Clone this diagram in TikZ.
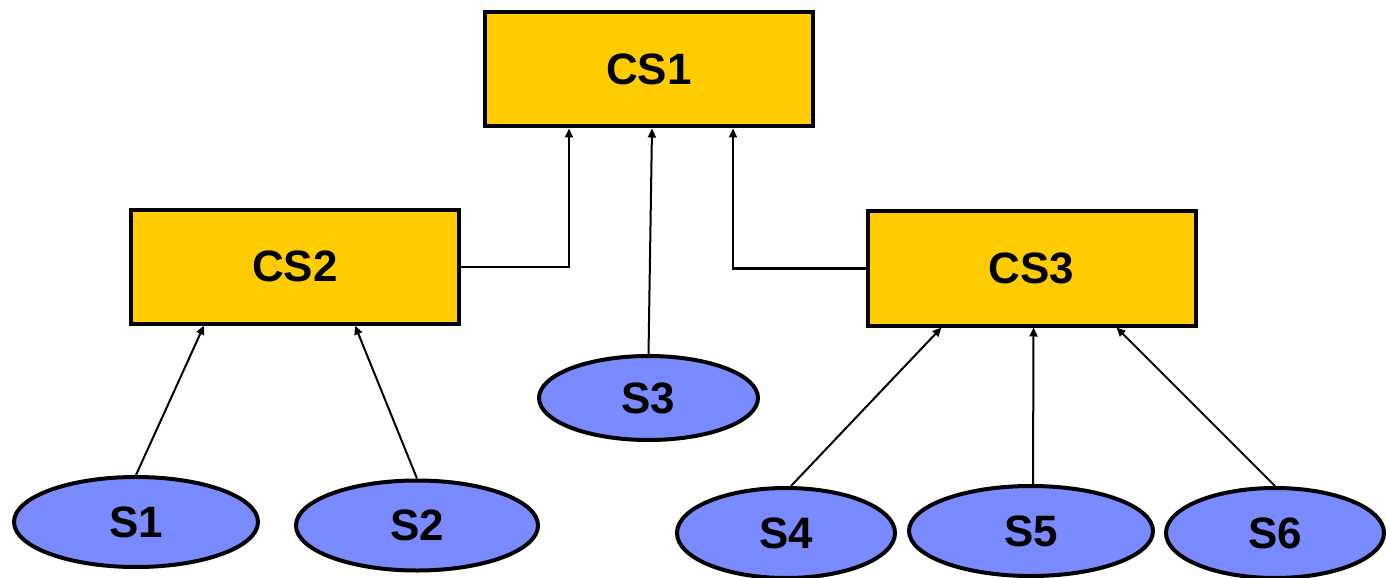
\documentclass[tikz,border=0pt]{standalone}
\usepackage{fontspec}
\setmainfont{Liberation Sans}
\usetikzlibrary{shapes.geometric,arrows.meta}
\definecolor{csyellow}{RGB}{255,204,0}
\definecolor{sblue}{RGB}{122,138,255}
\begin{document}
\begin{tikzpicture}[
	csnode/.style={draw, line width=0.04cm, fill=csyellow, minimum width=3.28cm, minimum height=1.14cm, inner sep=0pt, font=\fontsize{12.5}{15}\selectfont\bfseries},
	snode/.style={ellipse, draw, line width=0.04cm, fill=sblue, inner sep=0pt, font=\fontsize{12.5}{15}\selectfont\bfseries},
	link/.style={line width=0.02cm, -{Triangle[length=0.09cm, width=0.08cm]}}
]
	\useasboundingbox (0,0) rectangle (13.86,5.77);
	% Obere Ebene
	\node[csnode] (cs1) at (6.49, 5.075) {CS1};
	% Mittlere Ebene
	\node[csnode] (cs2) at (2.95, 3.105) {CS2};
	\node[csnode] (cs3) at (10.315, 3.085) {CS3};
	\node[snode, minimum width=2.19cm, minimum height=0.84cm] (s3) at (6.485, 1.79) {S3};
	% Untere Ebene
	\foreach \n/\x/\y/\w in {1/1.36/0.55/2.44, 2/4.17/0.515/2.42, 4/7.86/0.44/2.18, 5/10.31/0.46/2.44, 6/12.75/0.44/2.18}
		\node[snode, minimum width=\w cm, minimum height=0.9cm] (s\n) at (\x,\y) {S\n};
	% Pfeile nach CS1
	\draw[link] (cs2.east) -| ([xshift=-8mm]cs1.south);
	\draw[link] (s3.north) -- ([xshift=0.3mm]cs1.south);
	\draw[link] (cs3.west) -| ([xshift=8.4mm]cs1.south);
	% Pfeile nach CS2
	\draw[link] (s1.north) -- ([xshift=-9.1mm]cs2.south);
	\draw[link] (s2.north) -- ([xshift=6mm]cs2.south);
	% Pfeile nach CS3
	\draw[link] ([xshift=0.5mm]s4.north) -- ([xshift=-9mm]cs3.south);
	\draw[link] ([xshift=0.2mm]s5.north) -- ([xshift=0.2mm]cs3.south);
	\draw[link] (s6.north) -- ([xshift=8.5mm]cs3.south);
\end{tikzpicture}
\end{document}
